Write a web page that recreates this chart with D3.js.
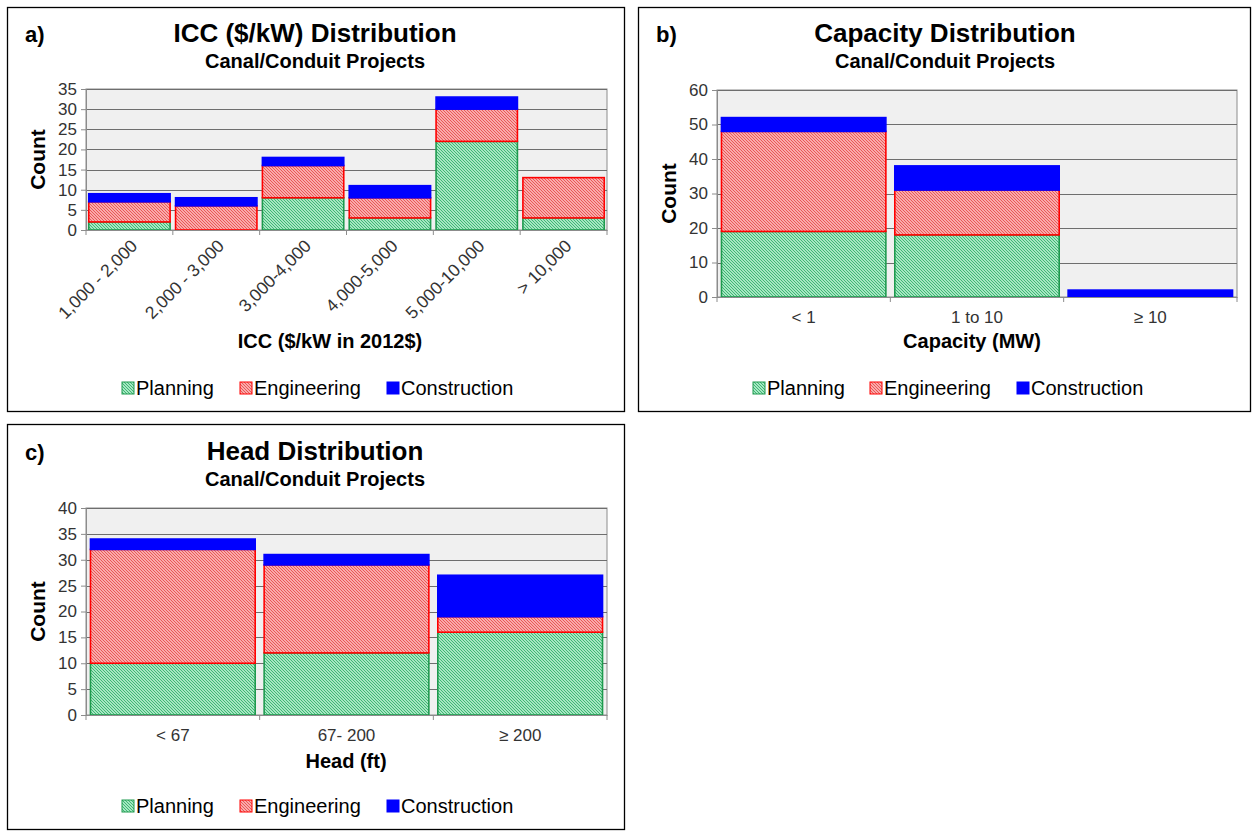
<!DOCTYPE html>
<html><head><meta charset="utf-8">
<script src="https://cdn.jsdelivr.net/npm/d3@7"></script>
<style>
body{margin:0;background:#fff;}
svg{display:block;font-family:"Liberation Sans",Arial,sans-serif;}
</style></head>
<body>
<svg id="chart" width="1252" height="831"></svg>
<script>
// ---- data ----
const seriesNames = ["Planning", "Engineering", "Construction"];

const iccCategories = ["1,000 - 2,000", "2,000 - 3,000", "3,000-4,000", "4,000-5,000", "5,000-10,000", "> 10,000"];
const iccPlanning = [2, 0, 8, 3, 22, 3];
const iccEngineering = [5, 6, 8, 5, 8, 10];
const iccConstruction = [2, 2, 2, 3, 3, 0];
const iccTicks = [0, 5, 10, 15, 20, 25, 30, 35];

const capCategories = ["< 1", "1 to 10", "\u2265 10"];
const capPlanning = [19, 18, 0];
const capEngineering = [29, 13, 0];
const capConstruction = [4, 7, 2];
const capTicks = [0, 10, 20, 30, 40, 50, 60];

const headCategories = ["< 67", "67- 200", "\u2265 200"];
const headPlanning = [10, 12, 16];
const headEngineering = [22, 17, 3];
const headConstruction = [2, 2, 8];
const headTicks = [0, 5, 10, 15, 20, 25, 30, 35, 40];

const svg = d3.select("#chart");
const defs = svg.append("defs");

function hatch(id, bg, line) {
  const p = defs.append("pattern").attr("id", id).attr("patternUnits", "userSpaceOnUse")
    .attr("width", 3).attr("height", 3);
  p.append("rect").attr("width", 3).attr("height", 3).attr("fill", bg);
  p.append("path").attr("d", "M-1,-1 L4,4 M-1,2 L1,4 M2,-1 L4,1")
    .attr("stroke", line).attr("stroke-width", 1);
}
hatch("hg", "#a6e6c2", "#3fb774");
hatch("hr", "#f9abab", "#e95858");

const fills = ["url(#hg)", "url(#hr)", "#0000ff"];
const strokes = ["#1e9a4e", "#ff0000", "#0000ff"];

function panel(cfg) {
  const g = svg.append("g");
  g.append("rect").attr("x", cfg.frame[0] + 0.5).attr("y", cfg.frame[1] + 0.5)
    .attr("width", cfg.frame[2]).attr("height", cfg.frame[3])
    .attr("fill", "#fff").attr("stroke", "#000").attr("stroke-width", 1.3);

  g.append("text").attr("x", cfg.letter[0]).attr("y", cfg.letter[1])
    .attr("font-size", 22).attr("font-weight", "bold").text(cfg.letterText);
  g.append("text").attr("x", cfg.titleX).attr("y", cfg.titleY).attr("text-anchor", "middle")
    .attr("font-size", 26).attr("font-weight", "bold").text(cfg.title);
  g.append("text").attr("x", cfg.titleX).attr("y", cfg.titleY + 26).attr("text-anchor", "middle")
    .attr("font-size", 20).attr("font-weight", "bold").text("Canal/Conduit Projects");

  const x = d3.scaleBand().domain(cfg.cats).range([cfg.x0, cfg.x1]).paddingInner(0.04).paddingOuter(0.02);
  const y = d3.scaleLinear().domain([0, cfg.ymax]).range([cfg.y1, cfg.y0]);

  // plot bg
  g.append("rect").attr("x", cfg.x0).attr("y", cfg.y0).attr("width", cfg.x1 - cfg.x0)
    .attr("height", cfg.y1 - cfg.y0).attr("fill", "#f0f0f0").attr("stroke", "#8c8c8c");
  // gridlines
  g.selectAll(".grid").data(cfg.ticks).enter().append("line")
    .attr("x1", cfg.x0).attr("x2", cfg.x1)
    .attr("y1", d => Math.round(y(d)) + 0.5).attr("y2", d => Math.round(y(d)) + 0.5)
    .attr("stroke", "#6e6e6e").attr("stroke-width", 1);

  // stacks
  const rows = cfg.cats.map((c, i) => ({cat: c, Planning: cfg.p[i], Engineering: cfg.e[i], Construction: cfg.c[i]}));
  const stack = d3.stack().keys(seriesNames)(rows);
  stack.forEach((layer, li) => {
    g.selectAll(".b" + li).data(layer).enter().append("rect")
      .attr("x", d => x(d.data.cat) + 1)
      .attr("y", d => y(d[1]))
      .attr("width", x.bandwidth() - 2)
      .attr("height", d => Math.max(0, y(d[0]) - y(d[1])))
      .attr("fill", fills[li]).attr("stroke", strokes[li]).attr("stroke-width", 1.6)
      .attr("display", d => (d[1] - d[0]) === 0 && li > 0 ? "none" : null);
  });

  // y axis
  const ya = d3.axisLeft(y).tickValues(cfg.ticks).tickSize(5).tickPadding(4);
  const yg = g.append("g").attr("transform", `translate(${cfg.x0},0)`).call(ya);
  yg.select(".domain").attr("stroke", "#8c8c8c");
  yg.selectAll(".tick line").attr("stroke", "#8c8c8c");
  yg.selectAll("text").attr("font-size", 17).attr("fill", "#333").attr("font-family", "Liberation Sans, Arial, sans-serif");

  // x axis
  const xa = d3.axisBottom(x).tickSize(0).tickFormat("");
  const xg = g.append("g").attr("transform", `translate(0,${cfg.y1})`).call(xa);
  xg.select(".domain").attr("stroke", "#8c8c8c");
  const bounds = d3.range(cfg.cats.length + 1).map(i => cfg.x0 + i * (cfg.x1 - cfg.x0) / cfg.cats.length);
  g.selectAll(".xt").data(bounds).enter().append("line")
    .attr("x1", d => d).attr("x2", d => d).attr("y1", cfg.y1).attr("y2", cfg.y1 + 5)
    .attr("stroke", "#8c8c8c");

  if (cfg.rotate) {
    g.selectAll(".xl").data(cfg.cats).enter().append("text")
      .attr("transform", d => `translate(${x(d) + x.bandwidth() / 2 + 9},${cfg.y1 + 17}) rotate(-45)`)
      .attr("text-anchor", "end").attr("font-size", 17.5).attr("fill", "#333").text(d => d);
  } else {
    g.selectAll(".xl").data(cfg.cats).enter().append("text")
      .attr("x", d => x(d) + x.bandwidth() / 2).attr("y", cfg.y1 + 26)
      .attr("text-anchor", "middle").attr("font-size", 17).attr("fill", "#333").text(d => d);
  }

  g.append("text").attr("x", cfg.axX).attr("y", cfg.axY).attr("text-anchor", "middle")
    .attr("font-size", 20).attr("font-weight", "bold").text(cfg.xTitle);
  g.append("text").attr("transform", `translate(${cfg.countX},${(cfg.y0 + cfg.y1) / 2}) rotate(-90)`)
    .attr("text-anchor", "middle").attr("font-size", 21).attr("font-weight", "bold").text("Count");

  // legend
  seriesNames.forEach((s, i) => {
    const lx = cfg.legX[i];
    g.append("rect").attr("x", lx).attr("y", cfg.legY - 13).attr("width", 12).attr("height", 12)
      .attr("fill", fills[i]).attr("stroke", strokes[i]).attr("stroke-width", 1);
    g.append("text").attr("x", lx + 14).attr("y", cfg.legY).attr("font-size", 20).text(s);
  });
}

panel({frame: [7, 7, 617, 404], letter: [25, 42], letterText: "a)", title: "ICC ($/kW) Distribution", titleX: 315, titleY: 42,
  cats: iccCategories, p: iccPlanning, e: iccEngineering, c: iccConstruction, ticks: iccTicks, ymax: 35,
  x0: 86, x1: 607, y0: 89, y1: 230, rotate: true, xTitle: "ICC ($/kW in 2012$)", axX: 330, axY: 348, countX: 45,
  legX: [122, 240, 387], legY: 395});

panel({frame: [638, 7, 612, 404], letter: [656, 42], letterText: "b)", title: "Capacity Distribution", titleX: 945, titleY: 42,
  cats: capCategories, p: capPlanning, e: capEngineering, c: capConstruction, ticks: capTicks, ymax: 60,
  x0: 717, x1: 1237, y0: 90, y1: 297, rotate: false, xTitle: "Capacity (MW)", axX: 972, axY: 348, countX: 676,
  legX: [753, 870, 1017], legY: 395});

panel({frame: [7, 424, 617, 405], letter: [25, 460], letterText: "c)", title: "Head Distribution", titleX: 315, titleY: 460,
  cats: headCategories, p: headPlanning, e: headEngineering, c: headConstruction, ticks: headTicks, ymax: 40,
  x0: 86, x1: 607, y0: 508, y1: 715, rotate: false, xTitle: "Head (ft)", axX: 346, axY: 768, countX: 45,
  legX: [122, 240, 387], legY: 813});
</script>
</body></html>
